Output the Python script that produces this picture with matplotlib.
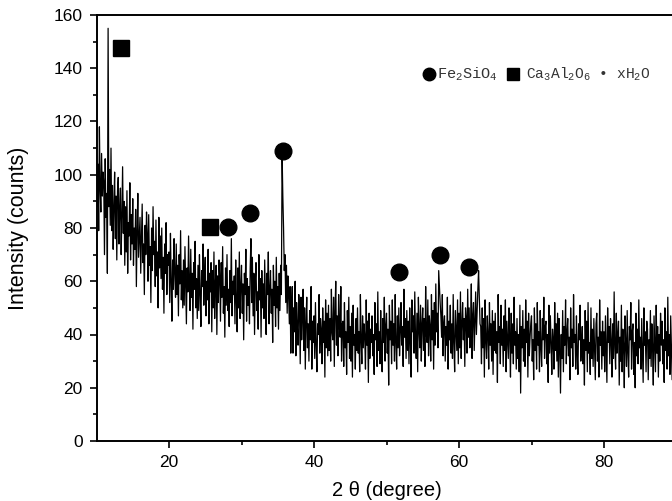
import numpy as np
import matplotlib
matplotlib.use("Agg")
import matplotlib.pyplot as plt

# ---- data -------------------------------------------------------------
scan_start = 10.0   # 2theta of first point (deg)
scan_step = 0.1     # step width (deg)

# intensity (counts), one row per degree, 10 points per row
intensity = [
    112, 88, 104, 79, 118, 95, 86, 108, 92, 101,    # 10
    97, 70, 106, 84, 93, 63, 155, 88, 102, 81,      # 11
    110, 79, 96, 72, 88, 101, 76, 92, 68, 94,       # 12
    99, 74, 87, 95, 70, 84, 103, 78, 90, 66,        # 13
    88, 71, 94, 63, 82, 77, 97, 68, 85, 74,         # 14
    91, 66, 80, 72, 87, 58, 79, 93, 69, 76,         # 15
    84, 63, 77, 89, 67, 74, 55, 81, 70, 86,         # 16
    78, 60, 85, 66, 73, 52, 80, 64, 88, 70,         # 17
    75, 58, 83, 62, 71, 50, 84, 65, 77, 61,         # 18
    80, 57, 69, 48, 74, 63, 82, 55, 70, 66,         # 19
    71, 52, 78, 60, 45, 68, 57, 76, 63, 54,         # 20
    74, 55, 66, 47, 70, 59, 79, 53, 64, 50,         # 21
    68, 51, 73, 58, 44, 65, 56, 77, 60, 49,         # 22
    72, 54, 63, 42, 67, 57, 75, 50, 61, 46,         # 23
    66, 49, 70, 55, 43, 64, 58, 74, 51, 62,         # 24
    69, 47, 60, 53, 72, 44, 63, 56, 67, 41,         # 25
    64, 50, 71, 46, 59, 66, 40, 62, 52, 68,         # 26
    61, 45, 67, 54, 73, 48, 58, 39, 65, 51,         # 27
    70, 49, 57, 43, 64, 52, 76, 47, 60, 55,         # 28
    62, 44, 68, 53, 41, 65, 50, 71, 46, 58,         # 29
    66, 48, 59, 38, 63, 55, 72, 45, 61, 51,         # 30
    58, 44, 65, 76, 52, 69, 47, 63, 40, 60,         # 31
    67, 49, 56, 42, 70, 53, 61, 39, 64, 50,         # 32
    59, 46, 68, 52, 40, 63, 55, 71, 44, 57,         # 33
    64, 48, 57, 37, 66, 51, 60, 43, 69, 50,         # 34
    58, 42, 63, 49, 66, 55, 108, 92, 80, 64,        # 35
    70, 52, 66, 48, 62, 55, 44, 58, 33, 50,         # 36
    58, 33, 50, 41, 60, 32, 52, 43, 36, 55,         # 37
    49, 29, 54, 38, 46, 57, 34, 50, 27, 45,         # 38
    54, 35, 44, 30, 49, 38, 58, 27, 45, 37,         # 39
    47, 31, 52, 36, 26, 44, 40, 55, 33, 46,         # 40
    42, 29, 50, 37, 45, 24, 53, 35, 48, 32,         # 41
    51, 34, 46, 30, 57, 41, 38, 54, 28, 49,         # 42
    60, 36, 47, 32, 55, 43, 39, 58, 30, 44,         # 43
    45, 28, 52, 35, 41, 25, 49, 37, 54, 31,         # 44
    43, 30, 48, 24, 51, 36, 40, 27, 46, 34,         # 45
    50, 33, 41, 26, 55, 38, 29, 47, 35, 44,         # 46
    39, 27, 53, 36, 45, 22, 48, 31, 42, 37,         # 47
    47, 32, 40, 25, 52, 38, 44, 28, 56, 34,         # 48
    41, 29, 49, 35, 26, 46, 37, 54, 30, 43,         # 49
    48, 33, 42, 21, 51, 38, 45, 29, 53, 36,         # 50
    44, 30, 55, 37, 27, 47, 35, 50, 32, 41,         # 51
    52, 36, 43, 28, 57, 39, 46, 31, 49, 34,         # 52
    45, 29, 50, 38, 24, 53, 41, 47, 33, 56,         # 53
    39, 31, 48, 26, 54, 42, 35, 51, 30, 44,         # 54
    50, 34, 46, 28, 58, 40, 37, 53, 32, 47,         # 55
    43, 30, 55, 38, 49, 27, 52, 36, 59, 41,         # 56
    48, 35, 64, 58, 52, 47, 39, 55, 32, 44,         # 57
    47, 30, 43, 36, 54, 27, 45, 38, 51, 33,         # 58
    44, 31, 55, 37, 26, 49, 41, 34, 53, 29,         # 59
    48, 35, 56, 31, 44, 52, 38, 46, 28, 50,         # 60
    46, 33, 57, 39, 50, 35, 44, 59, 31, 47,         # 61
    52, 34, 45, 56, 40, 49, 57, 64, 54, 44,         # 62
    43, 29, 50, 35, 46, 24, 53, 38, 31, 47,         # 63
    40, 27, 52, 36, 44, 30, 49, 25, 45, 34,         # 64
    48, 33, 41, 22, 55, 37, 43, 29, 51, 36,         # 65
    42, 28, 47, 34, 53, 26, 45, 38, 31, 50,         # 66
    39, 24, 48, 33, 44, 29, 54, 36, 41, 27,         # 67
    46, 31, 40, 26, 51, 18, 43, 35, 49, 30,         # 68
    42, 28, 53, 37, 45, 24, 48, 32, 39, 44,         # 69
    47, 30, 38, 23, 50, 34, 44, 27, 52, 36,         # 70
    41, 26, 49, 35, 28, 46, 38, 54, 31, 43,         # 71
    45, 29, 40, 22, 51, 33, 47, 37, 25, 42,         # 72
    38, 27, 52, 34, 44, 30, 48, 24, 46, 35,         # 73
    18, 40, 31, 49, 26, 43, 36, 53, 29, 41,         # 74
    46, 32, 39, 23, 50, 35, 42, 28, 55, 37,         # 75
    40, 27, 47, 33, 25, 44, 38, 51, 30, 36,         # 76
    43, 29, 38, 21, 49, 34, 45, 26, 52, 33,         # 77
    37, 25, 50, 31, 42, 28, 46, 35, 23, 44,         # 78
    48, 30, 39, 24, 53, 36, 41, 27, 45, 32,         # 79
    41, 26, 47, 34, 22, 50, 37, 43, 29, 46,         # 80
    38, 24, 44, 31, 56, 35, 27, 48, 33, 40,         # 81
    45, 21, 39, 30, 51, 26, 42, 36, 20, 47,         # 82
    36, 28, 49, 33, 24, 43, 38, 52, 27, 41,         # 83
    44, 25, 37, 20, 48, 32, 42, 29, 53, 35,         # 84
    39, 27, 46, 34, 22, 50, 36, 41, 26, 45,         # 85
    42, 23, 38, 31, 49, 28, 44, 35, 21, 47,         # 86
    37, 26, 51, 33, 43, 24, 40, 30, 48, 36,         # 87
    45, 29, 38, 22, 50, 34, 41, 27, 54, 32,         # 88
    40, 25, 47, 35, 23, 44, 31, 49, 28, 39,         # 89
    36,                                             # 90
]

# phase markers (2theta, height of symbol)
fayalite_2theta = [28.1, 31.2, 35.7, 51.7, 57.4, 61.4]
fayalite_y = [80.5, 85.8, 109.0, 63.5, 69.8, 65.3]
hydrate_2theta = [13.4, 25.6]
hydrate_y = [147.5, 80.5]

x_ticks = [20, 40, 60, 80]
y_ticks = [0, 20, 40, 60, 80, 100, 120, 140, 160]

# ---- figure -----------------------------------------------------------
two_theta = np.round(scan_start + scan_step * np.arange(len(intensity)), 2)

plt.rcParams["mathtext.fontset"] = "custom"
plt.rcParams["mathtext.rm"] = "Liberation Mono"
plt.rcParams["mathtext.it"] = "Liberation Mono"

fig = plt.figure(figsize=(6.72, 5.01), dpi=100)
ax = fig.add_axes([96.5 / 672, 60 / 501, 580 / 672, 426 / 501])

ax.plot(two_theta, intensity, color="black", lw=0.9)

ax.plot(fayalite_2theta, fayalite_y, "o", color="black", ms=12, mec="black")
ax.plot(hydrate_2theta, hydrate_y, "s", color="black", ms=11.5, mec="black")

ax.set_xlim(10, 90)
ax.set_ylim(0, 160)
ax.set_xticks(x_ticks)
ax.set_yticks(y_ticks)
ax.set_xticks([30, 50, 70, 90], minor=True)
ax.set_yticks(np.arange(10, 160, 20), minor=True)

ax.tick_params(axis="both", which="major", direction="out", length=5, width=1.2,
               labelsize=12.5, top=False, right=False, pad=5)
ax.tick_params(axis="both", which="minor", direction="out", length=3, width=1.2,
               top=False, right=False)
for lab in ax.get_xticklabels() + ax.get_yticklabels():
    lab.set_fontfamily("Liberation Sans")

for s in ax.spines.values():
    s.set_linewidth(1.4)

ax.set_ylabel("Intensity (counts)", family="Liberation Sans", fontsize=15.5, labelpad=18)
ax.set_xlabel("2 θ (degree)", family="Liberation Sans", fontsize=14.5, labelpad=8)

# legend drawn as marks + text
leg_y = 137.8
ax.plot([55.9], [leg_y], "o", color="black", ms=9)
ax.text(56.9, leg_y, r"Fe$_\mathrm{2}$SiO$_\mathrm{4}$", family="Liberation Mono",
        fontsize=11, color="#333333", va="center", ha="left")
ax.plot([67.45], [leg_y], "s", color="black", ms=8.5)
ax.text(69.3, leg_y, r"Ca$_\mathrm{3}$Al$_\mathrm{2}$O$_\mathrm{6}$ • xH$_\mathrm{2}$O",
        family="Liberation Mono", fontsize=10.5, color="#333333", va="center", ha="left")

fig.savefig("out.png", dpi=100)
